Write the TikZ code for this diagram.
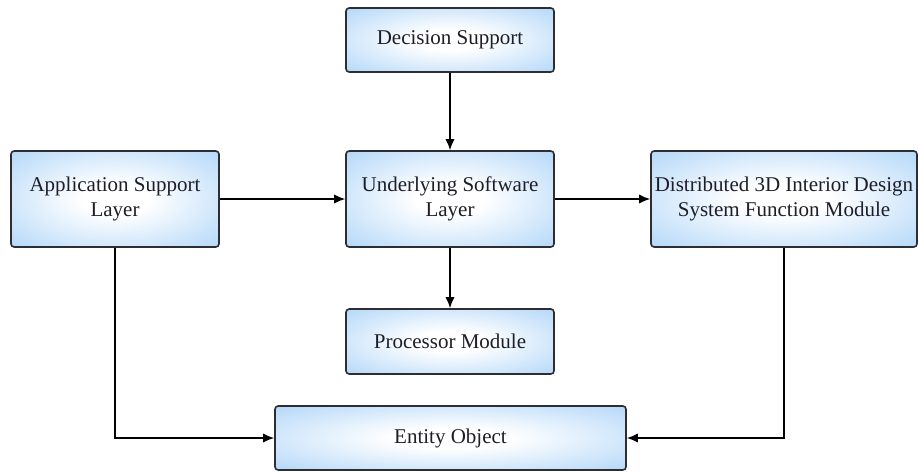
\documentclass[tikz,border=0pt]{standalone}
\usepackage{fontspec}
\setmainfont{Liberation Serif}
\usetikzlibrary{arrows.meta}
\definecolor{boxblue}{RGB}{140,195,245}
\definecolor{edgegray}{RGB}{45,45,50}
\definecolor{inkgray}{RGB}{30,30,40}
% soft glow: white core fading to blue towards the border
\pgfdeclareradialshading{boxglow}{\pgfpoint{0bp}{0bp}}{%
  color(0bp)=(white); color(8bp)=(white); color(50bp)=(boxblue); color(75bp)=(boxblue)}
\tikzset{
  blockbox/.style={draw=edgegray, line width=0.8pt, rounded corners=1.6pt,
    shading=boxglow, align=center, inner sep=0pt, text=inkgray,
    font=\fontsize{10.5}{12.6}\selectfont},
  arr/.style={draw=black, line width=0.75pt, -{Latex[length=5.5pt,width=4.6pt]}}
}
\begin{document}
\begin{tikzpicture}[x=0.5pt, y=-0.5pt]
\useasboundingbox (0,0) rectangle (919,472);
\node[blockbox, minimum width=104pt, minimum height=32pt] (dec) at (450,40) {Decision Support};
\node[blockbox, minimum width=104pt, minimum height=48pt] (app) at (115,199) {Application Support\\Layer};
\node[blockbox, minimum width=104pt, minimum height=48pt] (usl) at (450,199) {Underlying Software\\Layer};
\node[blockbox, minimum width=133pt, minimum height=48pt] (dist) at (784,199) {Distributed 3D Interior Design\\System Function Module};
\node[blockbox, minimum width=104pt, minimum height=32.5pt] (proc) at (450,341.5) {Processor Module};
\node[blockbox, minimum width=175.5pt, minimum height=32pt] (ent) at (450.5,438) {Entity Object};

\draw[arr] (dec) -- (usl);
\draw[arr] (app) -- (usl);
\draw[arr] (usl) -- (dist);
\draw[arr] (usl) -- (proc);
\draw[arr] (app.south) |- (ent.west);
\draw[arr] (dist.south) |- (ent.east);
\end{tikzpicture}
\end{document}
